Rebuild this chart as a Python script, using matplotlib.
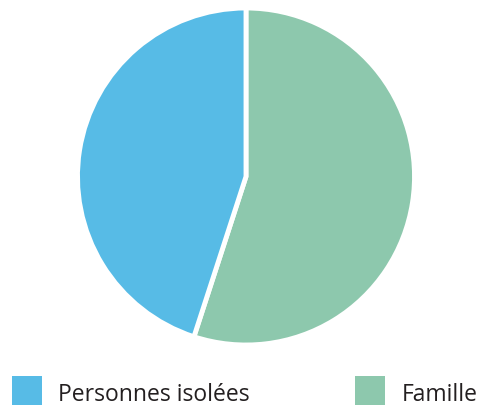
import matplotlib.pyplot as plt
from matplotlib.patches import Rectangle

labels = ['Famille', 'Personnes isolées']
values = [55, 45]
colors = ['#8DC8AD', '#57BBE6']

W, H = 483, 406
fig = plt.figure(figsize=(W / 100, H / 100), dpi=100)
fig.patch.set_facecolor('white')

# pie area: center ~ (246, 177) px from top, radius ~168 px
cx, cy, r = 246, 177.5, 168.5
ax = fig.add_axes([(cx - r) / W, (H - cy - r) / H, 2 * r / W, 2 * r / H])
ax.pie(values, colors=colors, startangle=90, counterclock=False, radius=1,
       wedgeprops=dict(edgecolor='white', linewidth=3.5))
ax.set_xlim(-1, 1)
ax.set_ylim(-1, 1)
ax.set_aspect('equal')
ax.axis('off')

# legend drawn by hand, bottom row
legend_items = [('Personnes isolées', colors[1], 12, 58),
                ('Famille', colors[0], 355, 402)]
for text, col, xs, xt in legend_items:
    fig.patches.append(Rectangle((xs / W, (H - 406) / H), 30 / W, 29 / H,
                                 transform=fig.transFigure, facecolor=col,
                                 edgecolor='none'))
    fig.text(xt / W, (H - 401) / H, text, fontsize=16.5, family='Open Sans',
             color='#231F20', va='baseline', ha='left')

fig.savefig('out.png', dpi=100, facecolor='white')
